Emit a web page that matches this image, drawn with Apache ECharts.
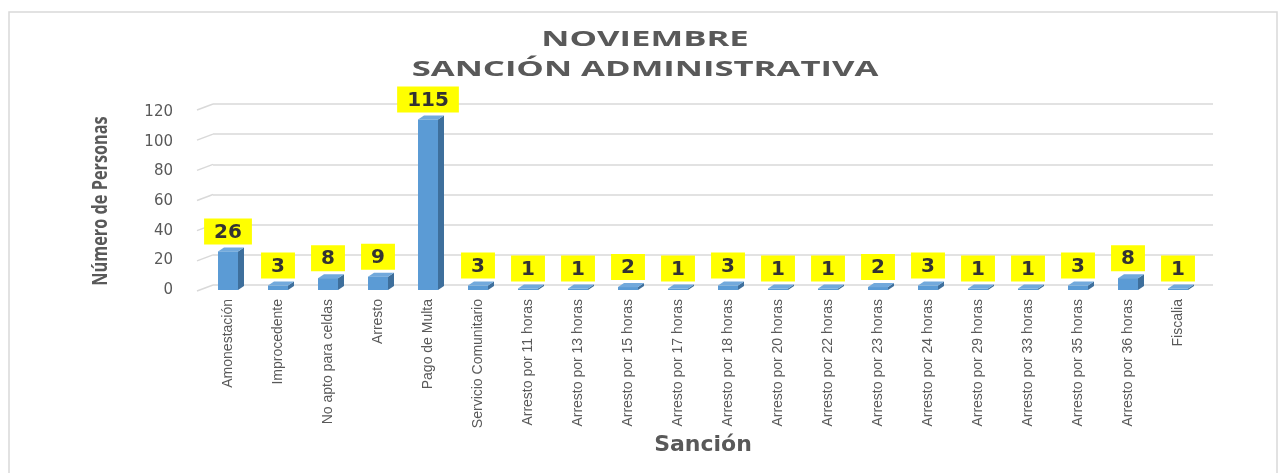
<!DOCTYPE html>
<html>
<head>
<meta charset="utf-8">
<script src="https://cdn.jsdelivr.net/npm/echarts@6/dist/echarts.min.js"></script>
<style>
  html, body { margin: 0; padding: 0; background: #fff; }
  #chart { width: 1278px; height: 473px; }
</style>
</head>
<body>
<div id="chart"></div>
<script>
// categorías (eje X)
var categorias = ['Amonestación', 'Improcedente', 'No apto para celdas', 'Arresto', 'Pago de Multa',
  'Servicio Comunitario', 'Arresto por 11 horas', 'Arresto por 13 horas', 'Arresto por 15 horas',
  'Arresto por 17 horas', 'Arresto por 18 horas', 'Arresto por 20 horas', 'Arresto por 22 horas',
  'Arresto por 23 horas', 'Arresto por 24 horas', 'Arresto por 29 horas', 'Arresto por 33 horas',
  'Arresto por 35 horas', 'Arresto por 36 horas', 'Fiscalia']
// número de personas
var personas = [26, 3, 8, 9, 115, 3, 1, 1, 2, 1, 3, 1, 1, 2, 3, 1, 1, 3, 8, 1]
// eje Y
var yMin = 0, yMax = 120, yPaso = 20
var marcasY = [0, 20, 40, 60, 80, 100, 120]

var chart = echarts.init(document.getElementById('chart'))

// barra con efecto 3D: cara frontal, lateral y superior
function barra3D(params, api) {
  var i = api.value(0)
  var top = api.coord([i, api.value(1)])
  var base = api.coord([i, 0])
  var w = api.size([1, 0])[0] * 0.4
  var x0 = top[0] - w / 2, x1 = top[0] + w / 2
  var dx = 6, dy = -4
  return {
    type: 'group',
    children: [
      {
        type: 'polygon',
        shape: { points: [[x1, top[1]], [x1 + dx, top[1] + dy], [x1 + dx, base[1] + dy], [x1, base[1]]] },
        style: { fill: '#3e6f9c' }
      },
      {
        type: 'polygon',
        shape: { points: [[x0, top[1]], [x0 + dx, top[1] + dy], [x1 + dx, top[1] + dy], [x1, top[1]]] },
        style: { fill: '#72a9dc' }
      },
      {
        type: 'rect',
        shape: { x: x0, y: top[1], width: w, height: base[1] - top[1] },
        style: { fill: '#5b9bd5' },
        textContent: {
          style: {
            text: String(api.value(1)),
            fill: '#333',
            font: 'bold 20px "DejaVu Sans"',
            backgroundColor: '#ffff00',
            padding: [4, 10, 2, 10]
          }
        },
        textConfig: { position: 'top', distance: 7 }
      }
    ]
  }
}

// borde izquierdo de la pared (tramo inclinado de cada línea de división)
function paredIzq(params, api) {
  var p = api.coord([0, api.value(0)])
  return {
    type: 'line',
    shape: { x1: p[0] - 16, y1: p[1] + 6, x2: p[0], y2: p[1] },
    style: { stroke: '#d9d9d9', lineWidth: 1.5 }
  }
}

chart.setOption({
  animation: false,
  graphic: [
    {
      type: 'rect',
      shape: { x: 9, y: 12, width: 1268, height: 500 },
      style: { fill: 'none', stroke: '#d9d9d9', lineWidth: 1.5 }
    },
    {
      // título (ensanchado como en el original)
      type: 'text',
      x: 645,
      y: 25,
      scaleX: 1.65,
      style: {
        text: 'NOVIEMBRE\nSANCIÓN ADMINISTRATIVA',
        fill: '#595959',
        font: 'bold 21px "Open Sans"',
        lineHeight: 30,
        align: 'center',
        verticalAlign: 'top'
      }
    },
    {
      // título del eje Y (letra angosta)
      type: 'text',
      x: 101,
      y: 201,
      rotation: Math.PI / 2,
      scaleX: 0.74,
      style: {
        text: 'Número de Personas',
        fill: '#595959',
        font: 'bold 22px "Open Sans"',
        align: 'center',
        verticalAlign: 'middle'
      }
    }
  ],
  grid: [
    { left: 203, right: 75, top: 112, bottom: 183 },   // plano frontal
    { left: 213, right: 65, top: 104, bottom: 188 }    // pared del fondo
  ],
  xAxis: [
    {
      type: 'category',
      gridIndex: 0,
      data: categorias,
      name: 'Sanción',
      nameLocation: 'middle',
      nameGap: 144,
      nameTextStyle: { fontFamily: 'DejaVu Sans', fontWeight: 'bold', fontSize: 22, color: '#595959' },
      axisLine: { show: false },
      axisTick: { show: false },
      axisLabel: {
        rotate: 90,
        interval: 0,
        margin: 9,
        fontFamily: 'sans-serif',
        fontSize: 14,
        color: '#595959'
      }
    },
    { type: 'value', gridIndex: 1, min: 0, max: 1, show: false }
  ],
  yAxis: [
    {
      type: 'value',
      gridIndex: 0,
      min: yMin,
      max: yMax,
      interval: yPaso,
      axisLine: { show: false },
      axisTick: { show: false },
      splitLine: { show: false },
      axisLabel: { margin: 30, fontFamily: 'DejaVu Sans', fontSize: 15, color: '#595959' }
    },
    {
      type: 'value',
      gridIndex: 1,
      min: yMin,
      max: yMax,
      interval: yPaso,
      axisLine: { show: false },
      axisTick: { show: false },
      axisLabel: { show: false },
      splitLine: { lineStyle: { color: '#d9d9d9', width: 1.5 } }
    }
  ],
  series: [
    {
      type: 'custom',
      xAxisIndex: 1,
      yAxisIndex: 1,
      renderItem: paredIzq,
      encode: { y: 0 },
      data: marcasY.map(function (v) { return [v] }),
      silent: true
    },
    {
      type: 'custom',
      xAxisIndex: 0,
      yAxisIndex: 0,
      renderItem: barra3D,
      encode: { x: 0, y: 1 },
      data: personas.map(function (v, i) { return [i, v] })
    }
  ]
})
</script>
</body>
</html>
